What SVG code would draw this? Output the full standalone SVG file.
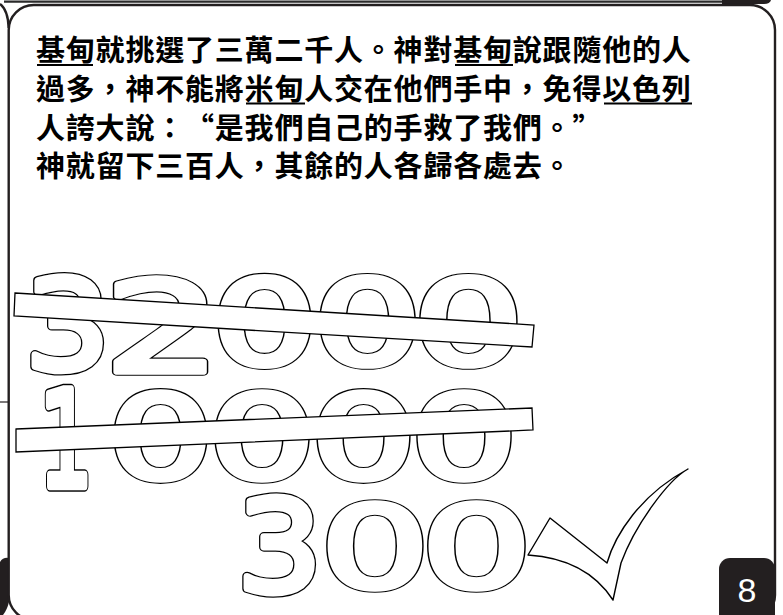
<svg xmlns="http://www.w3.org/2000/svg" xmlns:xlink="http://www.w3.org/1999/xlink" width="783" height="615" viewBox="0 0 783 615">
<style>
.frame{fill:none;stroke:#231f20;stroke-width:2.4}
.dark{fill:#231f20}
.txt{font-family:"Noto Sans CJK TC","Noto Sans CJK SC",sans-serif;font-size:29px;font-weight:700;letter-spacing:0.8px;fill:#000}
.ul{stroke:#000;stroke-width:1.8}
.dg{font-family:"DejaVu Sans",sans-serif;font-size:118px;text-anchor:middle;vector-effect:non-scaling-stroke}
.nb{fill:#000;stroke:#000;stroke-width:9.6;stroke-linejoin:round}
.nw{fill:#fff;stroke:#fff;stroke-width:7;stroke-linejoin:round}
.bar{fill:#fff;stroke:#000;stroke-width:1.3}
.chk{fill:#fff;stroke:#000;stroke-width:1.4;stroke-linejoin:round}
.badge{font-family:"Liberation Sans",Arial,sans-serif;font-size:34px;fill:#fff;text-anchor:middle}
</style>
<defs>
<g id="row1">
<text class="dg" transform="translate(67.5,368.5) scale(1.13,1.05)">3</text>
<text class="dg" transform="translate(162.5,372.2) scale(1.56,1.08)">2</text>
<text class="dg" transform="translate(264.5,364) scale(1.40,1)">0</text>
<text class="dg" transform="translate(367.5,364) scale(1.44,1)">0</text>
<text class="dg" transform="translate(468.5,364) scale(1.47,1)">0</text>
</g>
<g id="row2">
<text class="dg" transform="translate(66,486) scale(0.71,1.12)">1</text>
<text class="dg" transform="translate(160.5,477.5) scale(1.40,0.98)">0</text>
<text class="dg" transform="translate(262,477.5) scale(1.42,0.98)">0</text>
<text class="dg" transform="translate(363.5,477.5) scale(1.40,0.98)">0</text>
<text class="dg" transform="translate(464,477.5) scale(1.42,0.98)">0</text>
</g>
<g id="row3">
<text class="dg" transform="translate(279.5,591.4) scale(1.13,1.07)">3</text>
<text class="dg" transform="translate(375,586.6) scale(1.45,0.965)">0</text>
<text class="dg" transform="translate(476.5,586.6) scale(1.47,0.965)">0</text>
</g>
</defs>
<rect width="783" height="615" fill="#fff"/>
<g id="frame">
<line x1="4" y1="1.6" x2="726" y2="1.6" stroke="#2a2a2a" stroke-width="2.4"/>
<path class="dark" d="M722,0 L771,0 Q770,4 764,4 L722,4 Z"/>
<path class="frame" d="M0,4 Q8,10 8.7,28"/>
<line x1="0" y1="402" x2="8" y2="402" stroke="#231f20" stroke-width="1.2"/>
<path class="dark" d="M0,562 Q3,557 9,558 L9,602 Q7,610 3,615 L0,615 Z"/>
<rect class="frame" x="8.7" y="5" width="766.3" height="615" rx="25"/>
<rect class="dark" x="719" y="558" width="56" height="80" rx="11"/>
<text class="badge" x="747" y="602">8</text>
</g>
<g id="caption">
<text class="txt" x="36" y="61">基甸就挑選了三萬二千人。神對基甸說跟隨他的人</text>
<text class="txt" x="36" y="99.5">過多，神不能將米甸人交在他們手中，免得以色列</text>
<text class="txt" y="138.5"><tspan x="36">人誇大說：</tspan><tspan x="185">“</tspan><tspan x="214.8">是我們自己的手救了我們。</tspan><tspan x="572.4">”</tspan></text>
<text class="txt" x="36" y="176.5">神就留下三百人，其餘的人各歸各處去。</text>
<line class="ul" x1="37" y1="65" x2="93" y2="65"/>
<line class="ul" x1="455" y1="65" x2="513" y2="65"/>
<line class="ul" x1="246" y1="103.5" x2="305" y2="103.5"/>
<line class="ul" x1="604" y1="103.5" x2="692" y2="103.5"/>
</g>
<g id="n32000">
<use xlink:href="#row1" class="nb"/>
<use xlink:href="#row1" class="nw"/>
<polygon class="bar" points="15,293 534,325 532,347 14,316"/>
</g>
<g id="n10000">
<use xlink:href="#row2" class="nb"/>
<use xlink:href="#row2" class="nw"/>
<polygon class="bar" points="16,429 532,408 533,430 16,452"/>
</g>
<g id="n300">
<use xlink:href="#row3" class="nb"/>
<use xlink:href="#row3" class="nw"/>
</g>
<g id="check">
<path class="chk" d="M528,555 L550,518 L607,563 C615,535 640,495 688,469 C668,480 635,525 621,563 L613,600 C600,580 575,558 528,555 Z"/>
</g>
</svg>
